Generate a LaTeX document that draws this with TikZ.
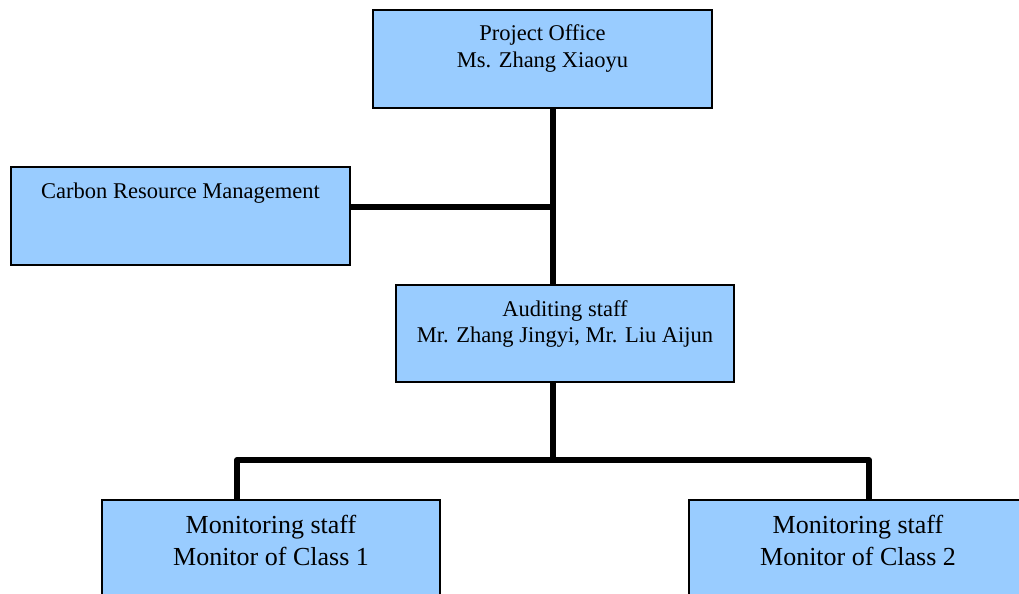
\documentclass[tikz,border=0pt]{standalone}
\usepackage{fontspec}
\setmainfont{Liberation Serif}
\usetikzlibrary{calc,positioning}
\definecolor{boxblue}{RGB}{153,204,255}
\tikzstyle{every node}+=[inner sep=0pt,outer sep=0pt]
\tikzstyle{box}=[rectangle,draw=black,line width=0.7pt,fill=boxblue,anchor=north west]
\tikzstyle{link}=[line width=3pt,line join=round]
\newcommand{\smallfont}{\fontsize{11.25}{13.5}\selectfont}
\newcommand{\bigfont}{\fontsize{13}{16}\selectfont}
% width, height, first baseline, font, text
\newcommand{\boxtext}[5]{\parbox[t][#2][t]{#1}{\centering#4\rule{0pt}{#3}#5}}

\begin{document}
\begin{tikzpicture}[x=0.5pt,y=-0.5pt]

\useasboundingbox (0,0) rectangle (1019,594);

\node[box] (po) at (373,10) {\boxtext{169.5pt}{49pt}{15.3pt}{\smallfont}{Project Office\\Ms. Zhang Xiaoyu}};
\node[box] (carbon) at (11,167) {\boxtext{169.5pt}{49pt}{15.5pt}{\smallfont}{Carbon Resource Management}};
\node[box] (audit) at (396,285) {\boxtext{169pt}{48.5pt}{15.5pt}{\fontsize{11.25}{13}\selectfont}{Auditing staff\\Mr. Zhang Jingyi, Mr. Liu Aijun}};
\node[box] (mon1) at (102,500) {\boxtext{169pt}{60pt}{16.5pt}{\bigfont}{Monitoring staff\\Monitor of Class 1}};
\node[box] (mon2) at (689,500) {\boxtext{169pt}{60pt}{16.5pt}{\bigfont}{Monitoring staff\\Monitor of Class 2}};

\coordinate (j1) at (553,207);
\coordinate (j2) at (553,460);
\coordinate (l) at (237,460);
\coordinate (r) at (869,460);

\draw[link] (po.south -| j1) -- (audit.north -| j1);
\draw[link] (carbon.east |- j1) -- (j1);
\draw[link] (audit.south -| j2) -- (j2);
\draw[link] (mon1.north -| l) -- (l) -- (r) -- (mon2.north -| r);
\end{tikzpicture}
\end{document}
